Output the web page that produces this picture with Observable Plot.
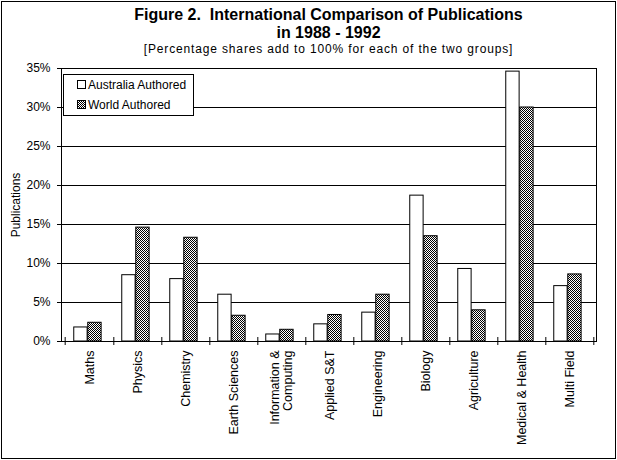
<!DOCTYPE html>
<html><head><meta charset="utf-8">
<script src="https://cdn.jsdelivr.net/npm/d3@7"></script>
<script src="https://cdn.jsdelivr.net/npm/@observablehq/plot@0.6"></script>
<style>
body{margin:0;background:#fff;font-family:"Liberation Sans",Arial,sans-serif;color:#000}
#wrap{position:relative;width:617px;height:460px;overflow:hidden;background:#fff}
#border{position:absolute;left:1px;top:1px;width:613px;height:456px;border:1px solid #000;pointer-events:none;z-index:5}
.t{position:absolute;left:61px;width:535px;text-align:center;white-space:nowrap}
#t1{top:5.5px;font-size:16px;font-weight:bold;line-height:18px}
#t2{top:24px;font-size:16px;font-weight:bold;line-height:18px}
#t3{top:42.6px;font-size:12px;line-height:13px;letter-spacing:0.85px}
#chart{position:absolute;left:0;top:58px}
#legend{position:absolute;left:63px;top:74px;width:129px;height:40px;border:1px solid #000;background:#fff;font-size:12px;z-index:3}
.li{position:absolute;left:13px;height:14px;line-height:14px;white-space:nowrap}
.sw{display:inline-block;width:7px;height:7px;border:1px solid #000;vertical-align:middle;margin-right:2px;position:relative;top:-1px}
</style></head>
<body>
<div id="wrap">
  <div class="t" id="t1">Figure 2.&nbsp; International Comparison of Publications</div>
  <div class="t" id="t2">in 1988 - 1992</div>
  <div class="t" id="t3">[Percentage shares add to 100% for each of the two groups]</div>
  <div id="chart"></div>
  <div id="legend"></div>
  <div id="border"></div>
</div>
<script>
const categories = ["Maths","Physics","Chemistry","Earth Sciences","Information &\nComputing","Applied S&T","Engineering","Biology","Agriculture","Medical & Health","Multi Field"];
const australia = [1.8,8.5,8.0,6.0,0.9,2.2,3.7,18.7,9.3,34.6,7.1];
const world = [2.4,14.6,13.3,3.3,1.5,3.4,6.0,13.5,4.0,30.0,8.6];
const seriesNames = ["Australia Authored","World Authored"];
const yTicks = [0,5,10,15,20,25,30,35];
const yLabel = "Publications";

const W = 617, H = 402, mL = 61, mR = 21, mT = 10, mB = 119;
const step = (W - mL - mR) / categories.length;
const barW = 14, lead = 0.18 * step;

const ausData = categories.map((c,i)=>({category:c, value:australia[i]}));
const worldData = categories.map((c,i)=>({category:c, value:world[i]}));

const plot = Plot.plot({
  width: W, height: H,
  marginLeft: mL, marginRight: mR, marginTop: mT, marginBottom: mB,
  style: {fontFamily: '"Liberation Sans", Arial, sans-serif', fontSize: "12px", color: "#000", background: "transparent"},
  x: {domain: categories, padding: 0},
  y: {domain: [0,35]},
  marks: [
    Plot.ruleY(yTicks, {stroke: "#000", strokeWidth: 1}),
    Plot.barY(ausData, {x: "category", y: "value", fill: "white", stroke: "#000", insetLeft: lead, insetRight: step - lead - barW}),
    Plot.barY(worldData, {x: "category", y: "value", fill: "url(#checker)", stroke: "#000", insetLeft: lead + barW, insetRight: step - lead - 2*barW}),
    Plot.frame({stroke: "#000"}),
    Plot.axisY(yTicks, {tickSize: 4, tickPadding: 7, tickFormat: d => d + "%", label: null, fontSize: 12}),
    Plot.axisX({tickSize: 0, tickRotate: -90, tickPadding: 9, label: null, fontSize: 12.5}),
    Plot.axisX({tickSize: 8, dx: step/2, dy: -4, text: null, label: null}),
    Plot.axisX([categories[0]], {tickSize: 8, dx: -step/2, dy: -4, text: null, label: null}),
    Plot.text([yLabel], {frameAnchor: "left", textAnchor: "middle", dx: -45, rotate: -90, fontSize: 12})
  ]
});
const ns = "http://www.w3.org/2000/svg";
const defs = document.createElementNS(ns, "defs");
defs.innerHTML = '<pattern id="checker" width="2" height="2" patternUnits="userSpaceOnUse"><rect width="2" height="2" fill="white"/><rect width="1" height="1" fill="black"/><rect x="1" y="1" width="1" height="1" fill="black"/></pattern>';
plot.prepend(defs);
document.getElementById("chart").appendChild(plot);

const legend = document.getElementById("legend");
seriesNames.forEach((s,i)=>{
  const d = document.createElement("div");
  d.className = "li";
  d.style.top = (3 + i*20) + "px";
  const sw = document.createElement("span");
  sw.className = "sw";
  sw.style.background = i === 0 ? "#fff" : "repeating-conic-gradient(#000 0 25%, #fff 0 50%) 0 0/2px 2px";
  d.appendChild(sw);
  d.appendChild(document.createTextNode(s));
  legend.appendChild(d);
});
</script>
</body></html>
